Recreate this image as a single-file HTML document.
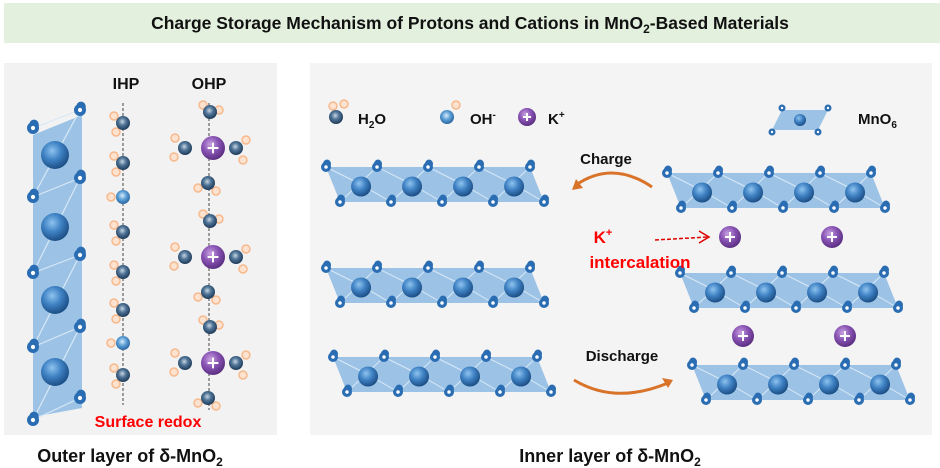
<!DOCTYPE html>
<html><head><meta charset="utf-8"><style>
body{margin:0;background:#fff;width:940px;height:468px;overflow:hidden;font-family:"Liberation Sans",Arial,sans-serif}
</style></head><body>
<svg id="s" width="940" height="468" xmlns="http://www.w3.org/2000/svg" style="position:absolute;left:0;top:0">
<defs>
<radialGradient id="mn" cx="0.4" cy="0.35" r="0.65"><stop offset="0" stop-color="#8ec3ee"/><stop offset="0.5" stop-color="#3f82c4"/><stop offset="1" stop-color="#1d4f86"/></radialGradient>
<radialGradient id="wa" cx="0.45" cy="0.4" r="0.6"><stop offset="0" stop-color="#c9d6e3"/><stop offset="0.45" stop-color="#4f7497"/><stop offset="1" stop-color="#1e3a58"/></radialGradient>
<radialGradient id="oh" cx="0.45" cy="0.4" r="0.6"><stop offset="0" stop-color="#d9ecfb"/><stop offset="0.5" stop-color="#5b9fd6"/><stop offset="1" stop-color="#2a65a0"/></radialGradient>
<radialGradient id="k" cx="0.4" cy="0.35" r="0.65"><stop offset="0" stop-color="#c9a3e0"/><stop offset="0.5" stop-color="#8a55b5"/><stop offset="1" stop-color="#5b2f82"/></radialGradient>
</defs>
<rect x="4" y="3" width="936" height="40" fill="#e3f0de"/>
<text x="470" y="29" text-anchor="middle" font-size="17.5" font-weight="bold" fill="#111">Charge Storage Mechanism of Protons and Cations in MnO<tspan font-size="12" dy="4">2</tspan><tspan dy="-4">-Based Materials</tspan></text>
<rect x="4" y="63" width="273" height="372" fill="#f2f2f2"/>
<rect x="310" y="63" width="622" height="372" fill="#f4f4f4"/>
<g id="g"></g>
<text x="126" y="89" text-anchor="middle" font-size="16" font-weight="bold" fill="#111">IHP</text>
<text x="209" y="89" text-anchor="middle" font-size="16" font-weight="bold" fill="#111">OHP</text>
<text x="148" y="427" text-anchor="middle" font-size="16" font-weight="bold" fill="#f00">Surface redox</text>
<text x="130" y="462" text-anchor="middle" font-size="18" font-weight="bold" fill="#111">Outer layer of δ-MnO<tspan font-size="12" dy="4">2</tspan></text>
<text x="610" y="462" text-anchor="middle" font-size="18" font-weight="bold" fill="#111">Inner layer of δ-MnO<tspan font-size="12" dy="4">2</tspan></text>
<text x="358" y="124" font-size="15" font-weight="bold" fill="#111">H<tspan font-size="10" dy="4">2</tspan><tspan dy="-4">O</tspan></text>
<text x="470" y="124" font-size="15" font-weight="bold" fill="#111">OH<tspan font-size="10" dy="-6">-</tspan></text>
<text x="548" y="124" font-size="15" font-weight="bold" fill="#111">K<tspan font-size="10" dy="-6">+</tspan></text>
<text x="858" y="124" font-size="15" font-weight="bold" fill="#111">MnO<tspan font-size="10" dy="4">6</tspan></text>
<text x="606" y="164" text-anchor="middle" font-size="15" font-weight="bold" fill="#111">Charge</text>
<text x="622" y="361" text-anchor="middle" font-size="15" font-weight="bold" fill="#111">Discharge</text>
<text x="603" y="243" text-anchor="middle" font-size="17" font-weight="bold" fill="#f00">K<tspan font-size="11" dy="-7">+</tspan></text>
<text x="640" y="268" text-anchor="middle" font-size="17" font-weight="bold" fill="#f00">intercalation</text>
</svg>
<script>
var g=document.getElementById('g'),h='';
function O(x,y,r){r=r||5;h+='<ellipse cx="'+(x+1)+'" cy="'+(y-3)+'" rx="'+(r*0.8)+'" ry="'+(r*0.9)+'" fill="#2a6db3"/><circle cx="'+x+'" cy="'+y+'" r="'+r+'" fill="#2a6db3"/><circle cx="'+x+'" cy="'+y+'" r="'+(r*0.35)+'" fill="#fff"/>';}
function S(x,y,r,f){h+='<circle cx="'+x+'" cy="'+y+'" r="'+r+'" fill="url(#'+(f||'mn')+')"/>';}
function H(x,y){h+='<circle cx="'+x+'" cy="'+y+'" r="4" fill="#fde3cf" stroke="#f6b98d" stroke-width="1.5"/>';}
function K(x,y,r){r=r||11;S(x,y,r,'k');h+='<path d="M'+(x-r*0.45)+' '+y+'h'+(r*0.9)+'M'+x+' '+(y-r*0.45)+'v'+(r*0.9)+'" stroke="#fff" stroke-width="2"/>';}
function slab(x0,y,s){s=s||51;var d=14,H2=35,L=4*s;
h+='<polygon points="'+(x0)+','+y+' '+(x0+L)+','+y+' '+(x0+L+d)+','+(y+H2)+' '+(x0+d)+','+(y+H2)+'" fill="#9cc3e6"/>';
var l='';for(var i=0;i<4;i++){var cx=x0+d/2+s*i+s*0.55;l+='M'+(x0+s*i)+' '+y+'L'+cx+' '+(y+H2/2)+'L'+(x0+d+s*(i+1))+' '+(y+H2)+'M'+(x0+s*(i+1))+' '+y+'L'+(x0+d+s*i)+' '+(y+H2);}
h+='<path d="'+l+'" stroke="#d8e8f6" stroke-width="1" fill="none"/>';
for(i=0;i<4;i++)S(x0+d/2+s*i+s*0.55,y+H2/2+2,10);
for(i=0;i<5;i++){O(x0+s*i,y);O(x0+d+s*i,y+H2);}}
// left vertical slab
h+='<polygon points="33,135 82,115 82,408 33,417" fill="#9cc3e6"/>';
var lo=[[33,128],[33,197],[33,273],[33,347],[33,420]],ro=[[80,110],[80,178],[80,255],[80,327],[80,398]],ls='';
for(var i=0;i<5;i++){ls+='M'+lo[i][0]+' '+lo[i][1]+'L'+ro[i][0]+' '+ro[i][1];if(i<4)ls+='M'+ro[i][0]+' '+ro[i][1]+'L'+lo[i+1][0]+' '+lo[i+1][1];}
h+='<path d="'+ls+'" stroke="#d8e8f6" stroke-width="1.2" fill="none"/>';
[155,227,300,372].forEach(function(y){S(55,y,14)});
lo.concat(ro).forEach(function(p){O(p[0],p[1],6)});
// IHP
h+='<line x1="123" y1="103" x2="123" y2="405" stroke="#444" stroke-width="1" stroke-dasharray="3,2"/>';
[123,163,232,272,310,375].forEach(function(y){H(114,y-7);H(116,y+9);S(123,y,7,'wa')});
[197,343].forEach(function(y){H(111,y);S(123,y,7,'oh')});
// OHP
h+='<line x1="209" y1="103" x2="209" y2="410" stroke="#444" stroke-width="1" stroke-dasharray="3,2"/>';
[148,257,363].forEach(function(y){
 H(203,y-43);H(219,y-38);S(210,y-36,7,'wa');
 H(175,y-10);H(174,y+9);S(185,y,7,'wa');
 H(246,y-8);H(243,y+12);S(236,y,7,'wa');
 H(198,y+40);H(216,y+43);S(208,y+35,7,'wa');
 K(213,y,12);});
// legend
H(333,106);H(344,104);S(336,117,7,'wa');
H(456,105);S(447,117,7,'oh');
K(527,117,9);
h+='<polygon points="782,110 828,110 818,130 772,130" fill="#9cc3e6"/>';S(800,120,6);
[[782,108],[828,108],[772,132],[818,132]].forEach(function(p){h+='<circle cx="'+p[0]+'" cy="'+p[1]+'" r="3.5" fill="#2a6db3"/><circle cx="'+p[0]+'" cy="'+p[1]+'" r="1.2" fill="#fff"/>'});
// slabs
slab(326,167);slab(667,173);slab(326,268);slab(680,273);slab(333,357);slab(692,365);
K(730,237);K(832,237);K(743,336);K(845,336);
// arrows
h+='<path d="M652,187 Q612,160 576,185" stroke="#d9732a" stroke-width="3" fill="none"/><path d="M572,190 L576,179 L583,188 Z" fill="#d9732a"/>';
h+='<path d="M574,380 Q615,405 668,383" stroke="#d9732a" stroke-width="3" fill="none"/><path d="M673,380 L662,378 L668,388 Z" fill="#d9732a"/>';
h+='<path d="M655,240 L708,237" stroke="#d00" stroke-width="1.5" stroke-dasharray="4,2" fill="none"/><path d="M699,231 L709,237 L699,243" stroke="#d00" stroke-width="1.5" fill="none"/>';
g.innerHTML=h;
</script>
</body></html>
